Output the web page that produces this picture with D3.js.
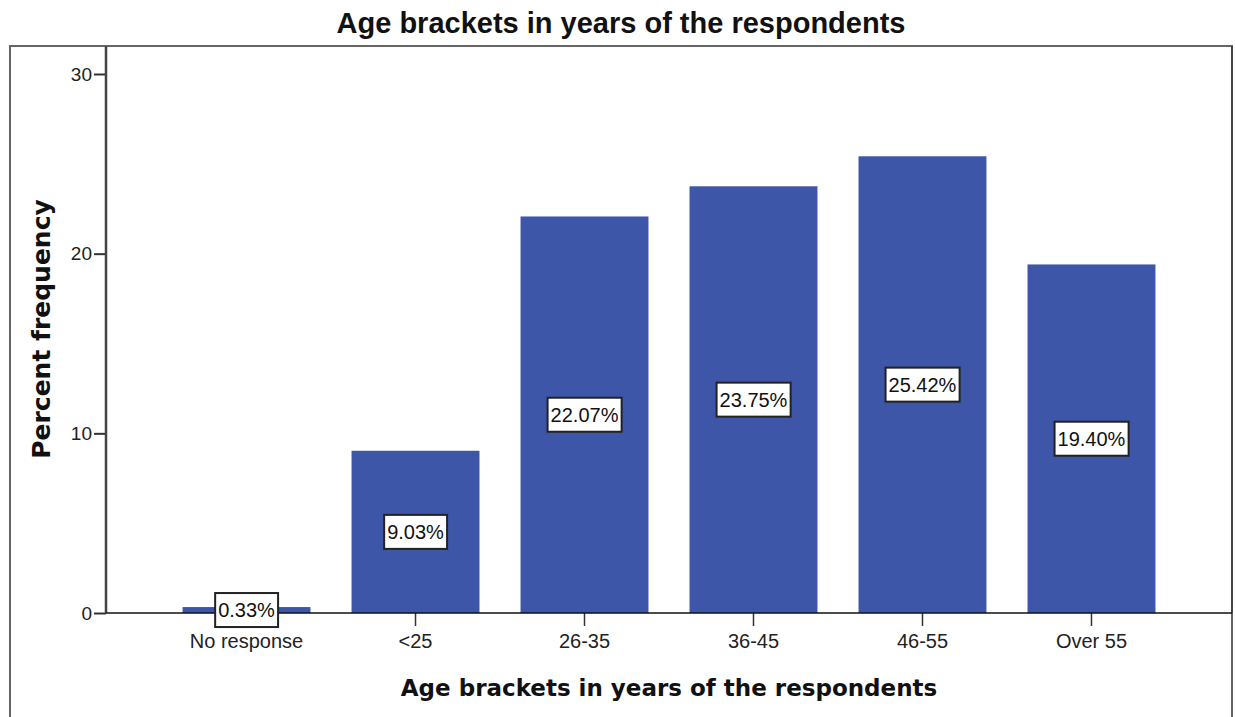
<!DOCTYPE html>
<html>
<head>
<meta charset="utf-8">
<script src="https://cdn.jsdelivr.net/npm/d3@7"></script>
<style>
  body { margin: 0; background: #fff; }
  svg { display: block; }
</style>
</head>
<body>
<svg id="chart" width="1235" height="717"></svg>
<script>
const categories = ["No response", "<25", "26-35", "36-45", "46-55", "Over 55"];
const percents = [0.33, 9.03, 22.07, 23.75, 25.42, 19.40];
const yTicks = [0, 10, 20, 30];

const width = 1235;
const height = 717;
const margin = { top: 46, right: 3, bottom: 104, left: 106 };
const barColor = "#3d56a8";
const textColor = "#222";
const sansFont = "'Liberation Sans', Arial, sans-serif";

const svg = d3.select("#chart");

// outer frame (SPSS style)
svg.append("rect")
    .attr("x", 10)
    .attr("y", margin.top)
    .attr("width", width - margin.right - 10)
    .attr("height", height + 20)
    .attr("fill", "none")
    .attr("stroke", "#666")
    .attr("stroke-width", 2);

const innerChart = svg.append("g");

const xScale = d3.scaleBand()
  .domain(categories)
  .range([margin.left, width - margin.right])
  .paddingInner(0.243)
  .paddingOuter(0.453);

const yScale = d3.scaleLinear()
  .domain([0, 30])
  .range([height - margin.bottom, 74]);

// right edge of the plot box
innerChart.append("line")
    .attr("x1", width - margin.right).attr("x2", width - margin.right)
    .attr("y1", margin.top).attr("y2", height - margin.bottom)
    .attr("stroke", "#444").attr("stroke-width", 2);

// bars
innerChart.selectAll("rect.bar")
  .data(percents)
  .join("rect")
    .attr("class", "bar")
    .attr("x", (d, i) => xScale(categories[i]))
    .attr("y", d => yScale(d))
    .attr("width", xScale.bandwidth())
    .attr("height", d => yScale(0) - yScale(d))
    .attr("fill", barColor);

// axes
const yAxis = d3.axisLeft(yScale).tickValues(yTicks).tickSize(12).tickPadding(2);
innerChart.append("g")
    .attr("transform", `translate(${margin.left},0)`)
    .call(yAxis)
    .call(g => g.select(".domain").remove())
    .call(g => g.selectAll(".tick line").attr("stroke", "#333").attr("stroke-width", 2))
    .call(g => g.selectAll("text")
      .style("font-family", sansFont)
      .style("font-size", "19px")
      .attr("fill", textColor));

innerChart.append("line")
    .attr("x1", margin.left).attr("x2", margin.left)
    .attr("y1", margin.top).attr("y2", height - margin.bottom)
    .attr("stroke", "#444").attr("stroke-width", 2.5);

const xAxis = d3.axisBottom(xScale).tickSize(13).tickPadding(8);
innerChart.append("g")
    .attr("transform", `translate(0,${height - margin.bottom})`)
    .call(xAxis)
    .call(g => g.select(".domain").remove())
    .call(g => g.selectAll(".tick line").attr("stroke", "#333").attr("stroke-width", 1.5))
    .call(g => g.selectAll("text")
      .style("font-family", sansFont)
      .style("font-size", "20px")
      .attr("fill", textColor));

innerChart.append("line")
    .attr("x1", margin.left).attr("x2", width - margin.right)
    .attr("y1", yScale(0)).attr("y2", yScale(0))
    .attr("stroke", "#111").attr("stroke-width", 1.5);

// value labels, boxed, at half the bar height
const labels = innerChart.selectAll("g.label")
  .data(percents)
  .join("g")
    .attr("class", "label")
    .attr("transform", (d, i) =>
      `translate(${xScale(categories[i]) + xScale.bandwidth() / 2},${yScale(d / 2)})`);

labels.append("text")
    .attr("text-anchor", "middle")
    .attr("dy", "0.36em")
    .style("font-family", sansFont)
    .style("font-size", "20px")
    .attr("fill", "#111")
    .text(d => `${d.toFixed(2)}%`);

labels.each(function() {
  const g = d3.select(this);
  const bb = g.select("text").node().getBBox();
  g.insert("rect", "text")
      .attr("x", bb.x - 3)
      .attr("y", -17)
      .attr("width", bb.width + 6)
      .attr("height", 34)
      .attr("fill", "#fff")
      .attr("stroke", "#222")
      .attr("stroke-width", 2);
});

// titles
svg.append("text")
    .attr("x", 621)
    .attr("y", 33)
    .attr("text-anchor", "middle")
    .style("font-family", sansFont)
    .style("font-size", "29px")
    .style("font-weight", 700)
    .attr("fill", "#111")
    .text("Age brackets in years of the respondents");

svg.append("text")
    .attr("x", 669)
    .attr("y", 696)
    .attr("text-anchor", "middle")
    .style("font-family", "'DejaVu Sans', sans-serif")
    .style("font-size", "23px")
    .style("font-weight", 700)
    .attr("fill", "#111")
    .text("Age brackets in years of the respondents");

svg.append("text")
    .attr("transform", "translate(50,329) rotate(-90)")
    .attr("text-anchor", "middle")
    .style("font-family", "'DejaVu Sans', sans-serif")
    .style("font-size", "25px")
    .style("font-weight", 700)
    .attr("fill", "#111")
    .text("Percent frequency");
</script>
</body>
</html>
